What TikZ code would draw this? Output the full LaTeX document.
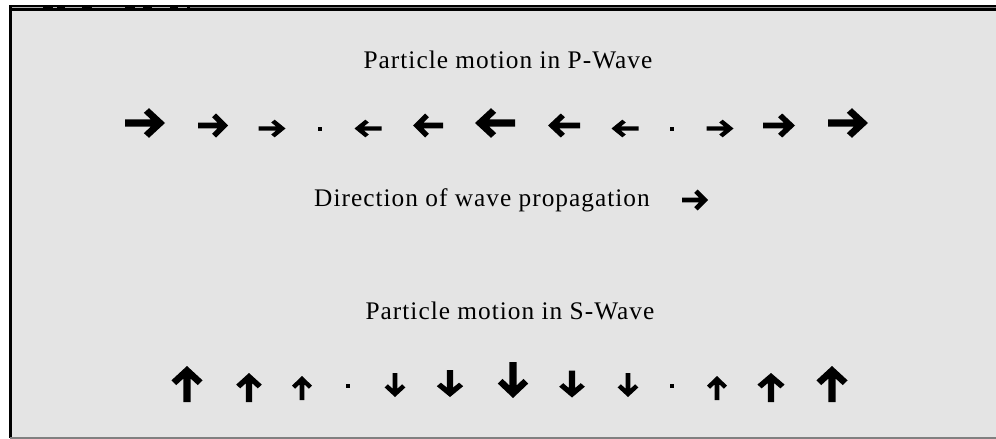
\documentclass[tikz,border=0pt]{standalone}
\usepackage{fontspec}
\setmainfont{Liberation Serif}
\newfontfamily\spacedfont[LetterSpace=4]{Liberation Serif}
\definecolor{panel}{HTML}{E4E4E4}
\definecolor{rimgray}{HTML}{808080}
\tikzset{
  lbl/.style={font=\spacedfont\fontsize{19pt}{21pt}\selectfont, inner sep=0pt},
}
% arrow glyph: #1 x, #2 y, #3 rotation, #4 half length, #5 half cross scale
\newcommand\glyarrow[5]{%
  \begin{scope}[shift={(#1,#2)}, rotate=#3, xscale=#4, yscale=#5]
    \fill[black] (-1,-0.19) -- (-1,0.19) -- (0.3,0.19) -- (-0.06,0.55) -- (0.2,0.8)
      -- (1,0) -- (0.2,-0.8) -- (-0.06,-0.55) -- (0.3,-0.19) -- cycle;
  \end{scope}}
\newcommand\glydot[2]{\fill[black] (#1-1.7,#2-1.7) rectangle (#1+1.7,#2+1.7);}
\begin{document}
\begin{tikzpicture}[x=0.75pt, y=-0.75pt]
\useasboundingbox (0,0) rectangle (996,439);
\fill[white] (0,0) rectangle (996,439);
% panel
\fill[panel] (10,9) rectangle (996,438);
\fill[black] (10,4.5) rectangle (996,11);
\fill[rimgray] (190,7) rectangle (996,8.2);
\foreach \a/\b in {12/43, 53/57, 65/82, 92/125, 135/143, 152/170, 178/187}
  \fill[white!70!black] (\a,6.8) rectangle (\b,8.4);
\fill[black] (9,4.5) rectangle (11.5,438);
\fill[rimgray] (10,436.8) rectangle (996,439);
% titles
\node[lbl] (ptitle) at (508,60) {Particle motion in P-Wave};
\node[lbl] (dirtext) at (482,200) {Direction of wave propagation};
\node[lbl] (stitle) at (510,311) {Particle motion in S-Wave};
\glyarrow{695}{200}{0}{13}{13}
% P-wave row
\glyarrow{145}{123}{0}{20}{18.5}
\glyarrow{213}{125.5}{0}{15}{15}
\glyarrow{272}{128.5}{0}{13.5}{11}
\glydot{320}{129}
\glyarrow{368}{128.5}{180}{13.5}{11}
\glyarrow{428}{125.5}{180}{15}{15}
\glyarrow{495}{123}{180}{20}{18.5}
\glyarrow{564}{125.5}{180}{16}{15}
\glyarrow{625}{128.5}{180}{13.5}{11}
\glydot{672}{129}
\glyarrow{720}{128.5}{0}{13.5}{11}
\glyarrow{779}{125.5}{0}{16}{15}
\glyarrow{848}{123}{0}{20}{18.5}
% S-wave row
\glyarrow{187}{384}{90}{18}{19.5}
\glyarrow{249}{387.5}{90}{14.5}{16}
\glyarrow{302}{388}{90}{12}{12.5}
\glydot{348}{386}
\glyarrow{395}{385}{-90}{12}{13}
\glyarrow{450}{383.5}{-90}{13.5}{16.5}
\glyarrow{513}{380}{-90}{18}{19}
\glyarrow{572}{384}{-90}{13.5}{16}
\glyarrow{628}{385}{-90}{12}{13}
\glydot{672}{386}
\glyarrow{717}{388}{90}{12}{12.5}
\glyarrow{771}{387.5}{90}{14.5}{17}
\glyarrow{832}{384}{90}{18}{19.5}
\end{tikzpicture}
\end{document}
